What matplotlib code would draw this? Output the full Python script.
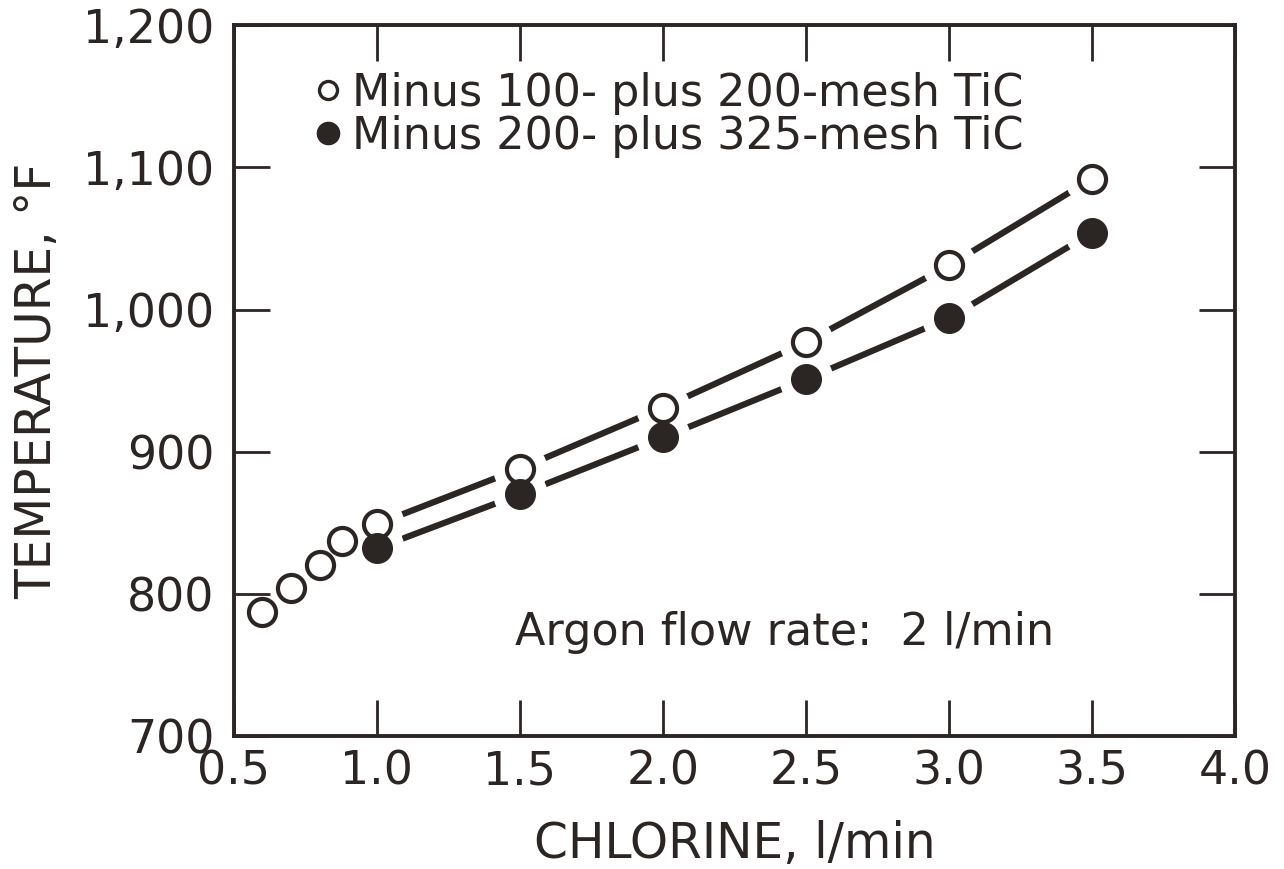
import matplotlib
matplotlib.use("Agg")
import matplotlib.pyplot as plt
from matplotlib.lines import Line2D
from matplotlib.ticker import FixedLocator, FuncFormatter

# Chlorine flow (l/min) and reaction temperature (deg F)
coarse_x = [0.6, 0.7, 0.8, 0.88, 1.0, 1.5, 2.0, 2.5, 3.0, 3.5]
coarse_t = [787, 804, 820, 837, 849, 888, 931, 977, 1031, 1092]
fine_x = [1.0, 1.5, 2.0, 2.5, 3.0, 3.5]
fine_t = [832, 870, 910, 951, 994, 1054]

coarse_label = "Minus 100- plus 200-mesh TiC"
fine_label = "Minus 200- plus 325-mesh TiC"
note_text = "Argon flow rate:  2 l/min"

x_ticks = [0.5, 1.0, 1.5, 2.0, 2.5, 3.0, 3.5, 4.0]
y_ticks = [700, 800, 900, 1000, 1100, 1200]

INK = "#2b2623"
plt.rcParams["font.family"] = ["DejaVu Sans"]

fig = plt.figure(figsize=(12.84, 8.69), dpi=100)
ax = fig.add_axes([0.182, 0.153, 0.780, 0.818])

# connecting lines only through the 1.0-3.5 l/min runs
line_start = 1.0
cx_line = [x for x in coarse_x if x >= line_start]
ct_line = [t for x, t in zip(coarse_x, coarse_t) if x >= line_start]
ax.plot(cx_line, ct_line, color=INK, lw=4.5, solid_capstyle="round", zorder=2)
ax.plot(fine_x, fine_t, color=INK, lw=4.5, solid_capstyle="round", zorder=2)

# white halos leave a gap between each line and its symbols
ax.plot(cx_line, ct_line, ls="none", marker="o", ms=39, mfc="white", mec="none", zorder=2.2)
ax.plot(fine_x, fine_t, ls="none", marker="o", ms=39, mfc="white", mec="none", zorder=2.2)

ax.plot(coarse_x, coarse_t, ls="none", marker="o", ms=19.5, mfc="white", mec=INK, mew=3.0, zorder=4)
ax.plot(fine_x, fine_t, ls="none", marker="o", ms=21.5, mfc=INK, mec=INK, mew=0.8, zorder=5)

ax.set_xlim(0.5, 4.0)
ax.set_ylim(700, 1200)
ax.xaxis.set_major_locator(FixedLocator(x_ticks))
ax.yaxis.set_major_locator(FixedLocator(y_ticks))
ax.xaxis.set_major_formatter(FuncFormatter(lambda v, p: f"{v:.1f}"))
ax.yaxis.set_major_formatter(FuncFormatter(lambda v, p: f"{v:,.0f}"))

for s in ax.spines.values():
    s.set_linewidth(2.8)
    s.set_color(INK)
ax.tick_params(axis="both", which="major", direction="in", length=26, width=2.0,
               color=INK, labelcolor=INK, labelsize=33,
               top=True, right=True)
ax.tick_params(axis="x", pad=10)
ax.tick_params(axis="y", pad=14)

ax.set_xlabel("CHLORINE, l/min", fontsize=35, color=INK, labelpad=18)
ax.set_ylabel("TEMPERATURE, \u00b0F", fontsize=35, color=INK, labelpad=16)

handles = [
    Line2D([], [], ls="none", marker="o", ms=13, mfc="white", mec=INK, mew=2.4),
    Line2D([], [], ls="none", marker="o", ms=16, mfc=INK, mec=INK),
]
ax.legend(handles, [coarse_label, fine_label], loc="upper left",
          bbox_to_anchor=(0.052, 0.978), frameon=False, fontsize=32,
          handlelength=0.5, handletextpad=0.3, labelspacing=0.0,
          borderpad=0.2, labelcolor=INK)

ax.text(0.281, 0.146, note_text, transform=ax.transAxes, fontsize=32,
        color=INK, ha="left", va="center")

fig.savefig("out.png", dpi=100, facecolor="white")
